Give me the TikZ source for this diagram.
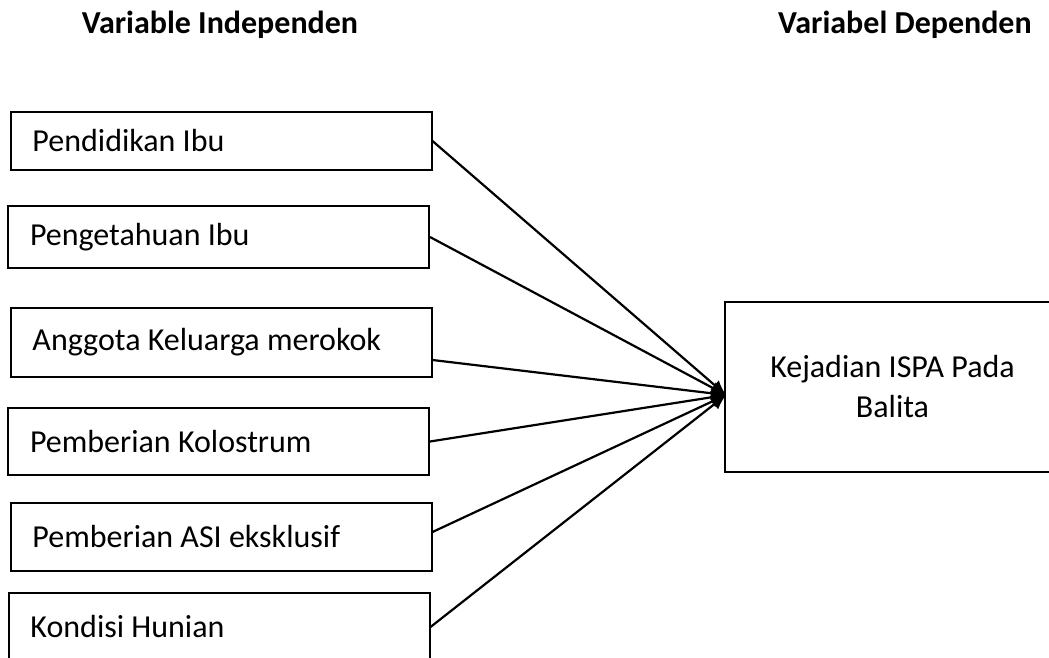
\documentclass[tikz,border=0pt]{standalone}
\usepackage{fontspec}
\setmainfont{Carlito}
\usepackage{tikz}
\usetikzlibrary{arrows.meta,calc,positioning}

\begin{document}
\begin{tikzpicture}[
  x=0.5pt,y=-0.5pt,
  font=\fontsize{16}{19}\selectfont,
  factor/.style={draw=black, line width=1pt, align=flush left, text width=188.5pt, inner xsep=11pt, inner ysep=0pt},
  outcome/.style={draw=black, line width=1pt, align=center, minimum width=167.5pt, minimum height=85pt, font=\fontsize{16}{20}\selectfont},
  heading/.style={font=\fontsize{16}{19}\selectfont\bfseries},
  arr/.style={-{Latex[length=7.5pt,width=6.5pt]}, line width=1.1pt, draw=black}
]
  \useasboundingbox (0,0) rectangle (1049,658);

  \node[heading] (hind) at (220,25) {Variable Independen};
  \node[heading] (hdep) at (905,25) {Variabel Dependen};

  \node[factor, minimum height=29pt] (b1) at (221,141) {Pendidikan Ibu};
  \node[factor, minimum height=31pt] (b2) at (218.5,237) {Pengetahuan Ibu};
  \node[factor, minimum height=34.5pt] (b3) at (221,342.5) {Anggota Keluarga merokok};
  \node[factor, minimum height=33.5pt] (b4) at (218.5,441.5) {Pemberian Kolostrum};
  \node[factor, minimum height=34pt] (b5) at (221,537) {Pemberian ASI eksklusif};
  \node[factor, minimum height=34pt] (b6) at (219,627) {Kondisi Hunian};

  \node[outcome] (ispa) at (892.5,387) {Kejadian ISPA Pada\\Balita};
  \coordinate (hit) at ($(ispa.west)+(2,8)$);

  \draw[arr] (b1.east) -- (hit);
  \draw[arr] (b2.east) -- (hit);
  \draw[arr] ([yshift=-8.75pt]b3.east) -- (hit);
  \draw[arr] (b4.east) -- (hit);
  \draw[arr] ([yshift=2.5pt]b5.east) -- (hit);
  \draw[arr] (b6.east) -- (hit);
\end{tikzpicture}
\end{document}
